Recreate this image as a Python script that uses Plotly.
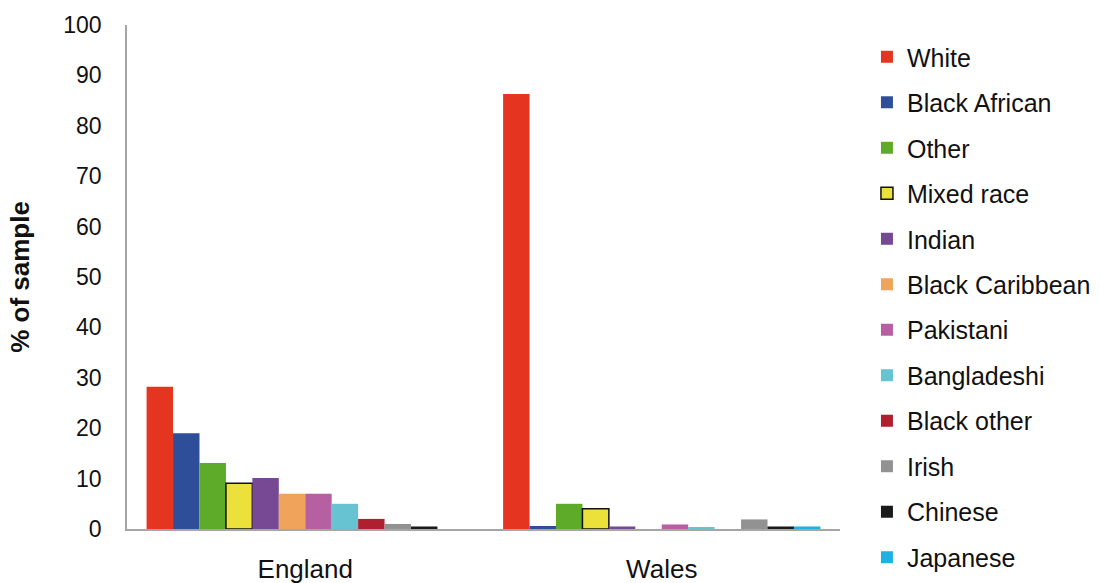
import plotly.graph_objects as go

regions = ["England", "Wales"]
groups = ["White", "Black African", "Other", "Mixed race", "Indian", "Black Caribbean",
          "Pakistani", "Bangladeshi", "Black other", "Irish", "Chinese", "Japanese"]
england = [28.2, 19.0, 13.1, 9.1, 10.1, 7.0, 7.0, 5.0, 2.0, 1.0, 0.5, 0.0]
wales = [86.3, 0.6, 5.0, 4.0, 0.5, 0.0, 0.9, 0.2, 0.0, 1.9, 0.5, 0.5]
colors = ["#E5341F", "#2F4E9A", "#5EAB2A", "#EBE13A", "#774894", "#F0A35B",
          "#B660A2", "#67C3D1", "#B01F30", "#929292", "#1a1a1a", "#1FB1E3"]
y_ticks = [0, 10, 20, 30, 40, 50, 60, 70, 80, 90, 100]

fig = go.Figure()
for i, g in enumerate(groups):
    outline = g == "Mixed race"
    fig.add_trace(go.Bar(
        x=regions, y=[england[i], wales[i]], name=g,
        marker=dict(color=colors[i],
                    line=dict(color="#111111" if outline else colors[i],
                              width=1.5 if outline else 0)),
        legendgroup=g,
        legend="legend" if i < 6 else "legend2",
    ))

leg_common = dict(xanchor="left", yanchor="top", xref="paper", yref="paper",
                  font=dict(size=25, family="Liberation Sans, Arial, sans-serif"),
                  tracegroupgap=10, traceorder="grouped",
                  itemwidth=30, bgcolor="rgba(0,0,0,0)")

fig.update_layout(
    width=1100, height=583,
    margin=dict(l=127, r=260, t=25, b=54, autoexpand=False),
    paper_bgcolor="white", plot_bgcolor="white",
    barmode="group", bargap=0.11, bargroupgap=0,
    font=dict(family="Liberation Sans, Arial, sans-serif", size=26, color="#111111"),
    showlegend=True,
    legend=dict(x=1.0378, y=0.9821, **leg_common),
    legend2=dict(x=1.0378, y=0.4405, **leg_common),
    yaxis=dict(range=[0, 100], tickvals=y_ticks, showgrid=False, zeroline=False,
               showline=True, linecolor="#a6a6a6", linewidth=1.5, ticks="",
               automargin=False, ticklabelstandoff=19,
               tickfont=dict(size=23),
               title=dict(text="<b>% of sample</b>", font=dict(size=26), standoff=26)),
    xaxis=dict(showgrid=False, showline=True, linecolor="#a6a6a6", linewidth=1.5,
               ticks="", automargin=False, ticklabelstandoff=16),
)

fig.write_html("out.html", post_script="document.body.style.margin='0';",
               config={"displayModeBar": False})
